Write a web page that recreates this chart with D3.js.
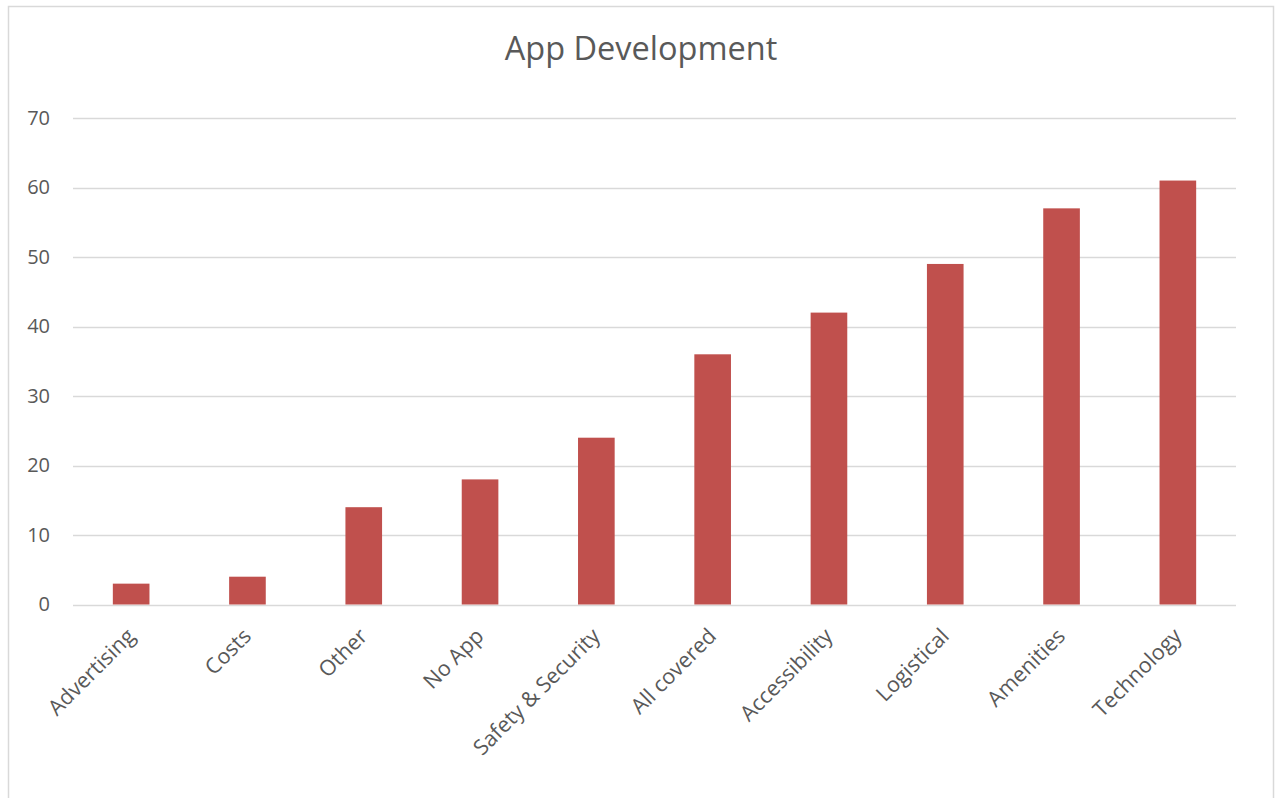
<!DOCTYPE html>
<html><head><meta charset="utf-8">
<script src="https://cdn.jsdelivr.net/npm/d3@7"></script>
<style>body{margin:0;background:#fff;} text{font-family:"Open Sans",sans-serif;}</style>
</head><body>
<svg id="c" width="1278" height="798"></svg>
<script>
const categories = ["Advertising","Costs","Other","No App","Safety & Security","All covered","Accessibility","Logistical","Amenities","Technology"];
const values = [3,4,14,18,24,36,42,49,57,61];
const yTicks = [0,10,20,30,40,50,60,70];
const title = "App Development";

const svg = d3.select("#c");
svg.append("rect").attr("x",8.5).attr("y",6.5).attr("width",1265).attr("height",820)
  .attr("fill","#fff").attr("stroke","#d9d9d9").attr("stroke-width",1.5);

const x = d3.scaleBand().domain(categories).range([73,1236]).paddingInner(0.685).paddingOuter(0.3425);
const y = d3.scaleLinear().domain([0,70]).range([604.5,118]);

svg.append("text").attr("x",641).attr("y",60).attr("text-anchor","middle")
  .attr("font-size",32.5).attr("fill","#595959").text(title);

const grid = svg.append("g");
grid.selectAll("line").data(yTicks).join("line")
  .attr("x1",73).attr("x2",1236).attr("y1",d=>Math.round(y(d))+0.5).attr("y2",d=>Math.round(y(d))+0.5)
  .attr("stroke","#d9d9d9").attr("stroke-width",1.5);

const yAxis = svg.append("g").attr("transform","translate(50,0)")
  .call(d3.axisLeft(y).tickValues(yTicks).tickSize(0).tickPadding(0));
yAxis.select(".domain").remove();
yAxis.selectAll("text").attr("font-size",20).attr("fill","#595959").attr("font-family","'Open Sans',sans-serif");

svg.append("g").selectAll("rect").data(values).join("rect")
  .attr("x",(d,i)=>x(categories[i])).attr("width",x.bandwidth())
  .attr("y",d=>y(d)).attr("height",d=>y(0)-y(d)).attr("fill","#c0504d");

const xAxis = svg.append("g").attr("transform","translate(0,604.5)")
  .call(d3.axisBottom(x).tickSize(0).tickPadding(0));
xAxis.select(".domain").remove();
xAxis.selectAll("text").attr("font-size",21.5).attr("fill","#595959").attr("font-family","'Open Sans',sans-serif")
  .attr("text-anchor","end").attr("dy",null)
  .attr("transform","translate(5,33) rotate(-45)");
</script>
</body></html>
